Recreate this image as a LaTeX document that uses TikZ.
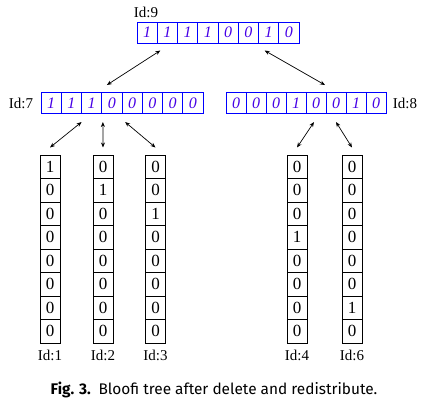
\documentclass[tikz,border=0pt]{standalone}
\usepackage{fontspec}
\setmainfont{Liberation Serif}
\newfontfamily\capfont{Fira Sans}
\usetikzlibrary{arrows.meta}
\definecolor{bitblue}{RGB}{0,0,255}
\definecolor{bitink}{RGB}{70,0,230}
\tikzset{
  rowcell/.style={draw=bitblue, line width=1pt, minimum width=20.25pt, minimum height=21pt,
    inner sep=0pt, text=bitink, font=\fontsize{16}{16}\selectfont\itshape},
  colcell/.style={draw=black, line width=1pt, minimum width=20pt, minimum height=23.5pt,
    inner sep=0pt, font=\fontsize{17}{17}\selectfont},
  idlabel/.style={inner sep=0pt, font=\fontsize{15}{15}\selectfont},
  link/.style={{Stealth[length=5pt,width=4pt]}-{Stealth[length=5pt,width=4pt]}, line width=0.7pt},
}
\begin{document}
\begin{tikzpicture}[x=1pt,y=-1pt]
\useasboundingbox (0,0) rectangle (425,408);

% root and inner nodes
\foreach \b [count=\i] in {1,1,1,1,0,0,1,0}
  \node[rowcell] (r9-\i) at (137+20.25*\i-10.125,32.5) {\b};
\foreach \b [count=\i] in {1,1,1,0,0,0,0,0}
  \node[rowcell] (r7-\i) at (41+20.25*\i-10.125,103) {\b};
\foreach \b [count=\i] in {0,0,0,1,0,0,1,0}
  \node[rowcell, minimum width=20pt] (r8-\i) at (226+20*\i-10,103) {\b};

\node[idlabel] (id9) at (146,12) {Id:9};
\node[idlabel] (id7) at (21,103) {Id:7};
\node[idlabel] (id8) at (405,103) {Id:8};

% leaves
\foreach \n/\x/\k in {1/50/1, 2/103/2, 3/155.5/3, 4/297/4, 6/352/7} {
  \foreach \j in {1,...,8}
    \node[colcell] (c\n-\j) at (\x,155+23.5*\j-11.75) {\ifnum\j=\k\relax 1\else 0\fi};
  \node[idlabel] (id\n) at (\x,355) {Id:\n};
}

\draw[link] ([xshift=-7,yshift=-7]r9-2.south) -- ([xshift=-5,yshift=7]r7-4.north);
\draw[link] ([xshift=-4,yshift=-7]r9-7.south) -- ([xshift=9,yshift=7]r8-5.north);

\draw[link] ([xshift=-10,yshift=-8]r7-3.south) -- ([yshift=7]c1-1.north);
\draw[link] ([xshift=-9,yshift=-8]r7-4.south) -- ([yshift=7]c2-1.north);
\draw[link] ([xshift=-7,yshift=-8]r7-5.south) -- ([yshift=7]c3-1.north);
\draw[link] ([xshift=-2,yshift=-8]r8-5.south) -- ([yshift=7]c4-1.north);
\draw[link] ([yshift=-8]r8-6.south) -- ([yshift=7]c6-1.north);

\node[font=\capfont\fontsize{15.4}{16}\selectfont] (caption) at (214,390)
  {\textbf{Fig. 3.}\enspace Bloofi tree after delete and redistribute.};
\end{tikzpicture}
\end{document}
